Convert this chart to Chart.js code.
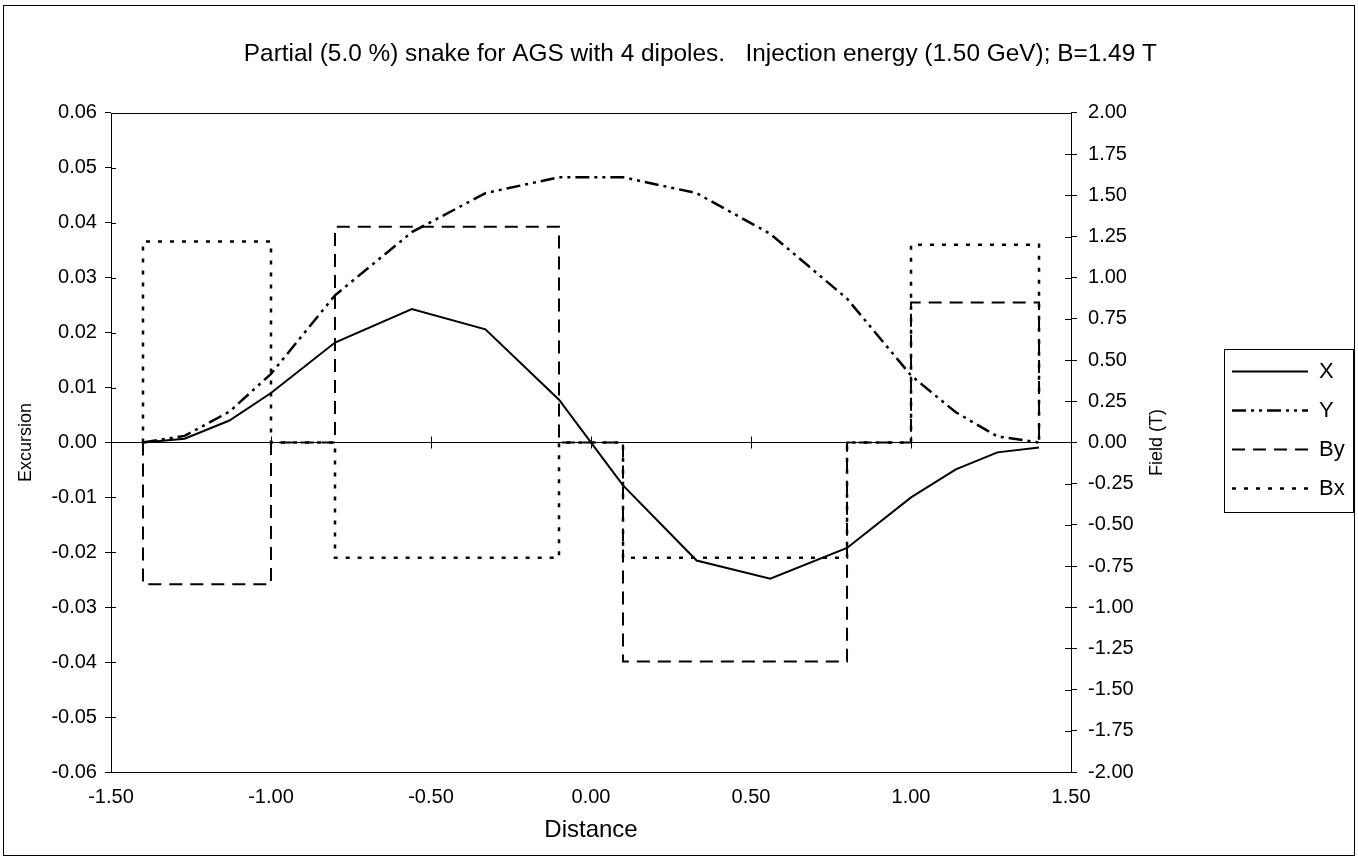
<!DOCTYPE html>
<html>
<head>
<meta charset="utf-8">
<title>Partial snake for AGS</title>
<script src="https://cdn.jsdelivr.net/npm/chart.js@4.4.1/dist/chart.umd.min.js"></script>
<style>
  html, body { margin: 0; padding: 0; background: #fff; }
  #wrap { width: 1358px; height: 860px; }
</style>
</head>
<body>
<div id="wrap"><canvas id="snakeChart" width="1358" height="860"></canvas></div>
<script>
// 軌道の位置 (Distance) と偏位
const distance   = [-1.40, -1.27, -1.13, -1.00, -0.80, -0.56, -0.33, -0.10, 0.10, 0.33, 0.56, 0.80, 1.00, 1.14, 1.27, 1.40];
const excursionX = [0.0000, 0.0007, 0.0040, 0.0090, 0.0182, 0.0243, 0.0206, 0.0078, -0.0078, -0.0215, -0.0248, -0.0192, -0.0100, -0.0049, -0.0018, -0.0009];
const excursionY = [0.0000, 0.0012, 0.0056, 0.0125, 0.0268, 0.0383, 0.0454, 0.0483, 0.0483, 0.0454, 0.0380, 0.0262, 0.0122, 0.0055, 0.0011, 0.0000];

// ダイポール磁場 (階段状)
const dipoleDist = [-1.40, -1.40, -1.00, -1.00, -0.80, -0.80, -0.10, -0.10, 0.10, 0.10, 0.80, 0.80, 1.00, 1.00, 1.40, 1.40];
const fieldBy    = [0, -0.86, -0.86, 0, 0, 1.31, 1.31, 0, 0, -1.33, -1.33, 0, 0, 0.85, 0.85, 0];
const fieldBx    = [0, 1.22, 1.22, 0, 0, -0.70, -0.70, 0, 0, -0.70, -0.70, 0, 0, 1.20, 1.20, 0];

// 軸の目盛
const distanceTicks  = [-1.5, -1.0, -0.5, 0.0, 0.5, 1.0, 1.5];
const excursionRange = [-0.06, 0.06];
const fieldRange     = [-2.0, 2.0];

const TITLE_SHIFT = 23;
const RIGHT_TITLE_PAD = 47.2;

const pts = (xs, ys) => xs.map((x, i) => ({ x: x, y: ys[i] }));
const fmt = v => (Math.abs(v) < 1e-9 ? 0 : v).toFixed(2);

Chart.defaults.font.family = '"Liberation Sans", Arial, sans-serif';
Chart.defaults.color = '#000';

// 枠線・目盛・凡例枠を描くプラグイン
const chartDecor = {
    id: 'chartDecor',
    afterLayout(chart) {
        chart.titleBlock.left += TITLE_SHIFT;
        chart.titleBlock.right += TITLE_SHIFT;
    },
    afterDraw(chart) {
        const { ctx, chartArea: a, scales } = chart;
        ctx.save();
        ctx.strokeStyle = '#000';
        ctx.lineWidth = 1;
        ctx.setLineDash([]);

        // 外枠
        ctx.strokeRect(3.5, 5.5, chart.width - 7, chart.height - 10);
        // プロット領域の枠
        ctx.strokeRect(Math.round(a.left) + 0.5, Math.round(a.top) + 0.5, Math.round(a.width), Math.round(a.height));

        ctx.beginPath();
        // 左軸の内側の目盛
        scales.y.ticks.forEach(t => {
            const py = Math.round(scales.y.getPixelForValue(t.value)) + 0.5;
            ctx.moveTo(a.left, py); ctx.lineTo(a.left + 5, py);
        });
        // 右軸の内側の目盛
        scales.y1.ticks.forEach(t => {
            const py = Math.round(scales.y1.getPixelForValue(t.value)) + 0.5;
            ctx.moveTo(a.right - 6, py); ctx.lineTo(a.right, py);
        });
        // ゼロ線上の横軸目盛
        const y0 = scales.y.getPixelForValue(0);
        distanceTicks.forEach(v => {
            const px = Math.round(scales.x.getPixelForValue(v)) + 0.5;
            ctx.moveTo(px, y0 - 6); ctx.lineTo(px, y0 + 6);
        });
        ctx.stroke();

        // 凡例の枠
        const hb = chart.legend.legendHitBoxes;
        if (hb && hb.length) {
            const left = hb[0].left - 8;
            const right = Math.max(...hb.map(h => h.left + h.width)) + 8;
            const top = hb[0].top - 12;
            const last = hb[hb.length - 1];
            const bottom = last.top + last.height + 12;
            ctx.strokeRect(Math.round(left) + 0.5, Math.round(top) + 0.5, Math.round(right - left), Math.round(bottom - top));
        }

        // 右軸タイトル (下から上へ)
        const r = scales.y1;
        ctx.font = '18px "Liberation Sans", Arial, sans-serif';
        ctx.fillStyle = '#000';
        ctx.textAlign = 'center';
        ctx.textBaseline = 'middle';
        ctx.translate(r.right - RIGHT_TITLE_PAD - 10.8, (a.top + a.bottom) / 2);
        ctx.rotate(-Math.PI / 2);
        ctx.fillText('Field (T)', 0, 0);
        ctx.restore();
    }
};

const ctx = document.getElementById('snakeChart').getContext('2d');
new Chart(ctx, {
    type: 'line',
    data: {
        datasets: [
            { label: 'X', data: pts(distance, excursionX), yAxisID: 'y',
              borderColor: '#000', borderWidth: 2, borderDash: [] },
            { label: 'Y', data: pts(distance, excursionY), yAxisID: 'y',
              borderColor: '#000', borderWidth: 2.5, borderDash: [14, 5, 3, 5, 3, 5] },
            { label: 'By', data: pts(dipoleDist, fieldBy), yAxisID: 'y1',
              borderColor: '#000', borderWidth: 2, borderDash: [13, 8] },
            { label: 'Bx', data: pts(dipoleDist, fieldBx), yAxisID: 'y1',
              borderColor: '#000', borderWidth: 2.5, borderDash: [4, 8] }
        ]
    },
    options: {
        responsive: false,
        animation: false,
        layout: { padding: { left: 0, right: 3.3, top: 0, bottom: 0 } },
        elements: {
            point: { radius: 0 },
            line: { tension: 0, fill: false, borderCapStyle: 'butt' }
        },
        plugins: {
            title: {
                display: true,
                text: 'Partial (5.0 %) snake for AGS with 4 dipoles.   Injection energy (1.50 GeV); B=1.49 T',
                font: { size: 24.4, weight: 'normal' },
                color: '#000',
                padding: { top: 39.4, bottom: 44.3 }
            },
            legend: {
                position: 'right',
                labels: {
                    usePointStyle: true,
                    pointStyle: 'line',
                    pointStyleWidth: 76,
                    padding: 17,
                    color: '#000',
                    font: { size: 22 },
                    generateLabels: chart => chart.data.datasets.map((ds, i) => ({
                        text: ds.label,
                        datasetIndex: i,
                        strokeStyle: ds.borderColor,
                        fillStyle: ds.borderColor,
                        lineWidth: ds.borderWidth,
                        lineDash: ds.borderDash,
                        lineCap: 'butt',
                        pointStyle: 'line',
                        fontColor: '#000',
                        hidden: false
                    }))
                }
            },
            tooltip: { enabled: false }
        },
        scales: {
            x: {
                type: 'linear',
                min: distanceTicks[0],
                max: distanceTicks[distanceTicks.length - 1],
                afterBuildTicks: axis => { axis.ticks = distanceTicks.map(v => ({ value: v })); },
                grid: { display: false, drawTicks: false },
                border: { display: false },
                ticks: { callback: fmt, font: { size: 20 }, color: '#000', padding: 13, maxRotation: 0 },
                title: { display: true, text: 'Distance', font: { size: 24 }, color: '#000', padding: { top: -6.4, bottom: 15.6 } }
            },
            y: {
                position: 'left',
                min: excursionRange[0],
                max: excursionRange[1],
                ticks: { stepSize: 0.01, callback: fmt, font: { size: 20 }, color: '#000', padding: 8 },
                grid: {
                    color: c => (c.tick && Math.abs(c.tick.value) < 1e-9 ? '#000' : 'rgba(0,0,0,0)'),
                    tickColor: '#000',
                    tickLength: 6,
                    lineWidth: 1
                },
                border: { display: false },
                title: { display: true, text: 'Excursion', font: { size: 18 }, color: '#000', padding: { top: 15.2, bottom: 6.6 } }
            },
            y1: {
                position: 'right',
                min: fieldRange[0],
                max: fieldRange[1],
                ticks: { stepSize: 0.25, callback: fmt, font: { size: 20 }, color: '#000', padding: 11 },
                grid: { drawOnChartArea: false, tickColor: '#000', tickLength: 6 },
                border: { display: false },
                title: { display: true, text: '', font: { size: 18 }, padding: { top: RIGHT_TITLE_PAD, bottom: 1.6 } }
            }
        }
    },
    plugins: [chartDecor]
});
</script>
</body>
</html>
